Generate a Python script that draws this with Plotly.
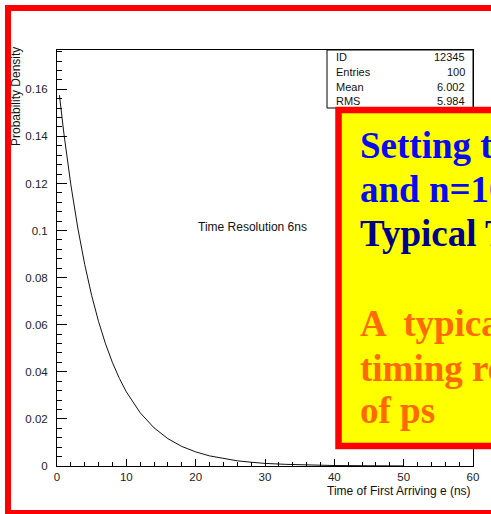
import plotly.graph_objects as go

# Arrival-time distribution of the first electron (ns) and its density
t_ns = [0.35, 1, 2, 3, 4, 5, 6, 7, 8, 9, 10, 12, 14, 16, 18, 20, 22, 24,
        26, 28, 30, 33, 36, 40, 45, 50]
density = [0.1575, 0.1411, 0.1194, 0.1011, 0.0856, 0.0724, 0.0613, 0.0519,
           0.0439, 0.0372, 0.0315, 0.0226, 0.0162, 0.0116, 0.0083, 0.0060,
           0.0043, 0.0031, 0.0022, 0.0016, 0.0011, 0.0007, 0.0004, 0.0002,
           0.0001, 0.00004]

stats_labels = ["ID", "Entries", "Mean", "RMS"]
stats_values = ["12345", "100", "6.002", "5.984"]

box_lines = ["Setting the", "and n=10", "Typical Timing",
             "A  typical", "timing resolution", "of ps"]
box_colors = ["#0a0aee", "#0a0aee", "#00008b",
              "#ff6a00", "#ff6a00", "#ff6a00"]

FIG_W, FIG_H = 491, 514
L, T, W, H = 57, 50, 416, 416


def px_x(px):
    return (px - L) / W


def px_y(py):
    return (T + H - py) / H


sans = "Liberation Sans, Arial, Helvetica, sans-serif"
serif = "Liberation Serif, Times New Roman, serif"

fig = go.Figure()
fig.add_trace(go.Scatter(x=t_ns, y=density, mode="lines",
                         line=dict(color="#111111", width=1),
                         hoverinfo="skip", showlegend=False))

axis_common = dict(
    showgrid=False, zeroline=False, showline=True, linecolor="black",
    linewidth=1, mirror=True, ticks="inside", tickcolor="black",
    tickwidth=1, tickfont=dict(family=sans, size=11.5, color="#222222"),
)

fig.update_xaxes(range=[0, 60], dtick=10, tick0=0, ticklen=7,
                 minor=dict(ticks="inside", dtick=2, ticklen=4,
                            tickcolor="black"),
                 ticklabelstandoff=0, **axis_common)
fig.update_yaxes(range=[0, 0.1767], dtick=0.02, tick0=0, ticklen=10,
                 minor=dict(ticks="inside", dtick=0.004, ticklen=5,
                            tickcolor="black"),
                 ticklabelstandoff=6, **axis_common)

shapes = [
    # outer red frame
    dict(type="rect", xref="paper", yref="paper",
         x0=px_x(8), x1=px_x(505), y0=px_y(513), y1=px_y(8),
         line=dict(color="#ff0000", width=6), layer="above"),
    # statistics box
    dict(type="rect", xref="paper", yref="paper",
         x0=px_x(327), x1=px_x(473), y0=px_y(108), y1=px_y(50),
         line=dict(color="black", width=1), fillcolor="white",
         layer="above"),
    # yellow note panel
    dict(type="rect", xref="paper", yref="paper",
         x0=px_x(338.5), x1=px_x(505), y0=px_y(446), y1=px_y(110),
         line=dict(color="#ff0000", width=6.5), fillcolor="#ffff00",
         layer="above"),
]

annotations = []
row_y = [57, 72, 87, 101]
for lab, val, yy in zip(stats_labels, stats_values, row_y):
    annotations.append(dict(xref="paper", yref="paper", x=px_x(334),
                            y=px_y(yy), text=lab, showarrow=False,
                            xanchor="left", yanchor="middle",
                            font=dict(family=sans, size=11, color="#111")))
    annotations.append(dict(xref="paper", yref="paper", x=px_x(467),
                            y=px_y(yy), text=val, showarrow=False,
                            xanchor="right", yanchor="middle",
                            font=dict(family=sans, size=11, color="#111")))

annotations.append(dict(xref="paper", yref="paper", x=px_x(252.7),
                        y=px_y(227), text="Time Resolution 6ns",
                        showarrow=False, xanchor="center", yanchor="middle",
                        font=dict(family=sans, size=12, color="#111")))

annotations.append(dict(xref="paper", yref="paper", x=px_x(473),
                        y=px_y(491), text="Time of First Arriving e (ns)",
                        showarrow=False, xanchor="right", yanchor="middle",
                        font=dict(family=sans, size=12, color="#111")))

annotations.append(dict(xref="paper", yref="paper", x=px_x(16),
                        y=px_y(97), text="Probability Density",
                        textangle=-90, showarrow=False, xanchor="center",
                        yanchor="middle",
                        font=dict(family=sans, size=12, color="#111")))

line_y = [145, 189, 233, 323, 368, 410]
for txt, col, yy in zip(box_lines, box_colors, line_y):
    annotations.append(dict(xref="paper", yref="paper", x=px_x(358),
                            y=px_y(yy), text="<b>%s</b>" % txt,
                            showarrow=False, xanchor="left",
                            yanchor="middle",
                            font=dict(family=serif, size=37, color=col)))

fig.update_layout(
    width=FIG_W, height=FIG_H,
    margin=dict(l=L, r=FIG_W - L - W, t=T, b=FIG_H - T - H),
    paper_bgcolor="white", plot_bgcolor="white",
    shapes=shapes, annotations=annotations, showlegend=False,
)

fig.write_html("out.html", config={"displayModeBar": False})
